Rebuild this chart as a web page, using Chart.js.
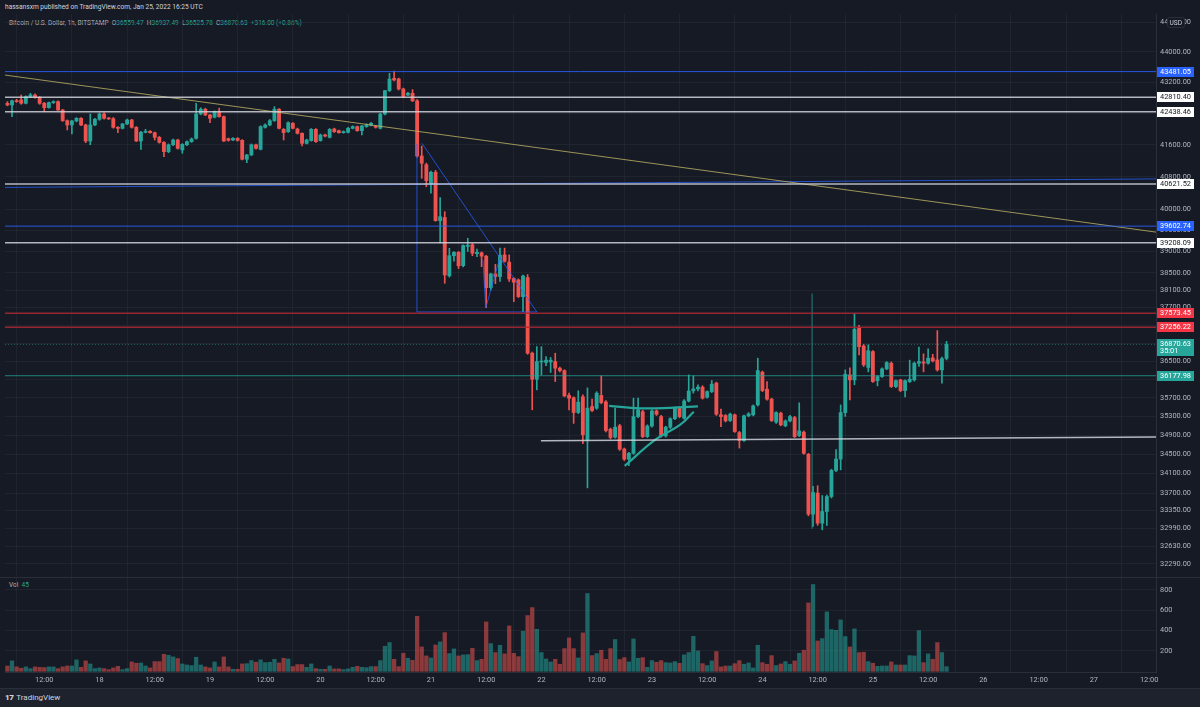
<!DOCTYPE html>
<html>
<head>
<meta charset="utf-8">
<title>BTCUSD 1h - BITSTAMP</title>
<script src="https://cdn.jsdelivr.net/npm/chart.js@4.4.1/dist/chart.umd.min.js"></script>
<style>
  html, body { margin: 0; padding: 0; }
  body { width: 1200px; height: 707px; background: #161a25; position: relative; overflow: hidden;
         font-family: Roboto, "Liberation Sans", Arial, sans-serif; }
  canvas { position: absolute; left: 0; }
  #priceCanvas { top: 14px; }
  #volCanvas { top: 578px; }
  #author { position: absolute; left: 5px; top: 2px; font-size: 6.6px; line-height: 10px; color: #d1d4dc; }
  #legend { position: absolute; left: 9px; top: 18px; font-size: 6.5px; line-height: 10px; color: #b2b5be; white-space: pre; }
  #legend .v, #volLegend .v { color: #26a69a; }
  #volLegend { position: absolute; left: 9px; top: 580px; font-size: 6.5px; line-height: 10px; color: #b2b5be; white-space: pre; }
  #paneSep { position: absolute; left: 0; top: 577px; width: 1200px; height: 1px; background: #2a2e39; }
  #footer { position: absolute; left: 0; top: 688px; width: 1200px; height: 19px; background: #1e222d; border-top: 1px solid #2a2e39; }
  #footer .logo { position: absolute; left: 5px; top: 4px; font-size: 8px; line-height: 10px; color: #d1d4dc; }
  #footer .logo b { font-weight: 900; letter-spacing: -0.5px; margin-right: 3px; }
</style>
</head>
<body>
<div id="author">hassansxm published on TradingView.com, Jan 25, 2022 16:25 UTC</div>
<div id="legend"></div>
<div id="volLegend"></div>
<div id="paneSep"></div>
<canvas id="priceCanvas" width="1200" height="563"></canvas>
<canvas id="volCanvas" width="1200" height="110"></canvas>
<div id="footer"><span class="logo"><b>17</b>TradingView</span></div>

<script>
// --- data: BTC/USD 1h candles, Jan 17 04:00 UTC .. Jan 25 16:00 UTC ---
const FIRST_HOUR = 4; // hours after Jan 17 00:00 UTC

const opens = [
  42656,42613,42720,42742,42656,42828,42871,42810,42656,42544,
  42673,42699,42484,42211,42100,42202,42271,42100,41694,42100,
  42245,42382,42271,42262,42041,42015,42126,42228,42041,41694,
  41914,41940,41905,41787,41660,41427,41600,41720,41469,41600,
  41677,41761,42382,42503,42356,42297,42441,42314,41753,41720,
  41761,41711,41236,41344,41600,41485,42041,42100,42211,42503,
  41990,41931,42143,41998,41888,41635,41703,41990,41703,41846,
  41787,41998,41956,41905,41914,42015,42058,41956,42058,42090,
  42075,42015,42382,42984,43305,43287,43027,42871,42915,42720,
  41318,41100,40625,40913,39734,39810,38430,38900,38980,38667,
  39120,39160,38950,38970,38890,38157,38474,38413,38920,38750,
  38370,38335,37950,38390,36674,36102,36480,36470,36480,36489,
  36343,36290,35750,35700,35382,35720,34800,35510,35475,35750,
  35610,35027,34860,35100,34610,34398,34520,35295,35400,34870,
  35095,35415,35295,34885,35070,35250,35475,35260,35630,35850,
  35890,35929,35710,35833,36016,35333,35318,35210,35333,34956,
  34788,35311,35332,35546,36255,35885,35670,35176,35368,35098,
  35204,35275,34892,34964,34500,33274,33700,33093,33327,33630,
  34165,34400,35380,36196,36087,37245,36835,36360,36710,36070,
  36160,36328,36453,35942,36087,35855,36050,36087,36453,36480,
  36453,36570,36526,36306,36559.47
];
const highs = [
  42700,42740,42760,42871,42850,42915,42900,42830,42680,42690,
  42720,42720,42500,42230,42220,42290,42290,42120,42382,42270,
  42410,42420,42290,42290,42060,42140,42250,42245,42060,41940,
  41990,41960,41920,41810,41680,41620,41740,41740,41630,41700,
  41770,42656,42540,42530,42370,42460,42530,42330,41770,41780,
  41780,41730,41360,41620,41620,42080,42130,42240,42570,42520,
  42010,42180,42160,42020,41900,41740,42010,42010,41870,41870,
  42010,42020,41970,41950,42040,42080,42075,42090,42130,42170,
  42090,42400,42990,43437,43498,43310,43050,42940,43010,42750,
  41568,41140,40940,40960,40290,39950,39075,39000,39000,39160,
  39313,39190,39060,38990,38910,38490,38700,39080,39080,38920,
  38390,38360,38450,38460,36700,36821,36820,36600,36580,36674,
  36370,36310,35800,35720,35850,35760,35913,35670,35830,36174,
  35640,35050,35475,35130,34630,34540,35690,35690,35430,35120,
  35440,35440,35320,35090,35270,35500,35500,35660,36196,36174,
  35980,35960,35850,36073,36040,35454,35340,35370,35350,34980,
  35330,35380,35545,36563,36280,36050,35690,35400,35390,35225,
  35320,35300,35590,34990,34520,33840,33850,33650,33660,34190,
  34600,35546,36306,36350,37570,37300,36870,36860,36730,36180,
  36350,36490,36480,36090,36100,36090,36520,36480,36808,36660,
  36770,36650,37180,36590,36937.49
];
const lows = [
  42590,42314,42680,42630,42640,42810,42790,42630,42441,42530,
  42650,42470,42190,41973,41871,42180,42080,41652,41600,42080,
  42220,42250,42240,42020,41905,42000,42110,42020,41680,41485,
  41900,41890,41720,41640,41302,41400,41580,41490,41385,41580,
  41660,41740,42360,42340,42160,42280,42300,41680,41690,41700,
  41690,41220,41152,41330,41490,41470,42020,42080,42190,42000,
  41720,41910,42000,41870,41568,41620,41690,41660,41690,41800,
  41770,41910,41890,41890,41900,42000,41940,41846,42040,42075,
  42020,42000,42360,42960,43240,43000,42800,42850,42700,41290,
  40764,40557,40397,39720,39200,38258,38400,38770,38600,38640,
  39000,38900,38880,38645,37697,38100,38250,38300,38750,38300,
  37835,37930,37608,36650,35440,35870,36196,36400,36250,36050,
  36260,35720,35440,35150,35360,34720,33806,35400,35450,35570,
  34970,34820,34840,34580,34370,34265,34500,35270,34850,34850,
  35070,35320,34860,34860,35040,35230,35270,35240,35610,35800,
  35850,35670,35690,35810,35320,35083,35180,35190,34960,34630,
  34770,35290,35310,35520,35830,35650,35190,35150,35100,35080,
  35180,34850,34870,34500,33240,33030,33050,32960,33050,33600,
  34140,34177,35300,35654,35980,36636,36380,36262,36030,35957,
  36140,36310,35920,35920,35830,35718,36030,36060,36380,36262,
  36430,36480,36280,36014,36525.78
];
const closes = [
  42613,42720,42699,42656,42828,42871,42810,42656,42544,42673,
  42699,42484,42211,42100,42202,42271,42100,41694,42100,42245,
  42382,42271,42255,42041,42015,42126,42228,42041,41694,41914,
  41940,41905,41787,41660,41427,41600,41720,41510,41610,41677,
  41745,42382,42503,42356,42271,42441,42314,41694,41711,41761,
  41711,41236,41344,41600,41510,42058,42100,42211,42503,42015,
  41905,42160,42015,41888,41635,41720,41990,41677,41846,41820,
  41990,41931,41905,41931,42015,42058,41956,42075,42100,42143,
  42041,42382,42984,43287,43261,43027,42828,42915,42720,41318,
  41138,40706,40913,39734,39830,38451,38902,38980,38667,39142,
  39150,38960,38980,38890,38157,38474,38413,38910,38770,38358,
  38282,37950,38427,36674,36102,36489,36500,36520,36520,36343,
  36290,35740,35690,35382,35605,34910,35475,35425,35798,35596,
  34998,34852,35070,34607,34398,34520,35295,35440,34870,35095,
  35415,35345,34885,35070,35250,35475,35295,35630,35845,35890,
  35930,35690,35833,35994,35347,35296,35204,35347,34977,34788,
  35311,35354,35525,36290,35855,35670,35210,35382,35119,35204,
  35296,34870,34991,34520,33274,33712,33093,33327,33630,34165,
  34400,35380,36210,36087,37210,36821,36417,36730,36050,36160,
  36328,36467,35942,36070,35855,36070,36102,36453,36489,36453,
  36563,36505,36306,36554.63,36870.63
];
const volumes = [
  52,102,43,30,43,26,43,39,36,43,
  43,26,43,52,52,112,39,102,72,26,
  33,26,16,33,49,16,26,92,79,82,
  52,33,95,95,167,157,141,125,72,62,
  56,138,62,43,33,92,43,141,43,20,
  20,72,75,105,89,112,85,89,118,82,
  128,121,46,66,66,39,72,26,20,20,
  52,23,23,16,23,39,49,39,36,46,
  46,105,246,282,118,46,177,128,108,541,
  239,151,131,259,289,380,174,220,151,161,
  164,226,105,118,485,272,184,256,171,446,
  177,144,394,548,626,413,184,121,92,118,
  69,223,328,223,131,377,764,154,174,207,
  118,223,312,115,134,92,318,128,134,39,
  105,89,105,85,82,95,79,161,184,344,
  200,75,56,102,194,43,52,52,75,105,
  69,82,33,256,85,69,154,56,72,95,
  69,102,177,207,672,853,298,321,584,410,
  403,505,341,239,417,184,187,95,79,49,
  52,52,92,62,62,62,154,151,400,85,
  171,118,282,184,45
];

// time axis (hours after Jan 17 00:00 UTC) and its labels
const timeTickHours = [12, 24, 36, 48, 60, 72, 84, 96, 108, 120, 132, 144, 156, 168, 180, 192, 204, 216, 228, 240, 252];
const timeTickLabels = ['12:00', '18', '12:00', '19', '12:00', '20', '12:00', '21', '12:00', '22', '12:00',
                        '23', '12:00', '24', '12:00', '25', '12:00', '26', '12:00', '27', '12:00'];

// price scale ticks (log scale) and volume ticks
const priceTicks = [44800, 44000, 43200, 42400, 41600, 40800, 40000, 39500, 39000, 38500, 38100, 37700, 37300,
                    36900, 36500, 36100, 35700, 35300, 34900, 34500, 34100, 33700, 33350, 32990, 32630, 32290];
const volumeTicks = [200, 400, 600, 800];

// drawn horizontal levels and their kind
const levelPrices = [43481.05, 42810.40, 42438.46, 40621.52, 39602.74, 39208.09, 37573.45, 37256.22, 36177.98];
const levelKinds  = ['blue', 'white', 'white', 'white', 'blue', 'white', 'red', 'red', 'teal'];
const countdown = '35:01';

// drawn trend lines / shapes: [hour, price]
const yellowTrend = [[3.475, 43390], [253.5, 39460]];
const blueTrend   = [[3.475, 40540], [253.5, 40750]];
const whiteTrend  = [[119.9, 34781], [253.5, 34865]];
const blueTriangle = [[94.05, 41640], [119.0, 37600], [92.96, 37600], [92.96, 41620]];
const blueWedge   = [[107.3, 38801], [107.9, 37690], [111.0, 38870]];
const tealTop     = [[134.7, 35525], [141.4, 35472], [147.9, 35482], [154.0, 35514]];
const tealBottom  = [[138.1, 34260], [144.67, 34802], [150.1, 35119], [153.1, 35400]];
const tealMarker  = [[178.8, 38024], [178.8, 32980]];

// --- layout / styles ---
const X_MIN = 3.475, X_MAX = 253.5;
const P_MIN = 32033, P_MAX = 45022;
const V_MIN = -7, V_MAX = 917;
const UP = '#26a69a', DOWN = '#ef5350';
const GRID = 'rgba(42,46,57,0.55)';
const AXIS_TXT = '#b2b5be';
const FONT = 'Roboto, "Liberation Sans", Arial, sans-serif';
const kindStyle = {
  blue:  { line: 'rgba(41,98,255,0.85)',  width: 1,   box: '#2962ff', text: '#ffffff' },
  white: { line: 'rgba(209,212,220,0.85)', width: 1.5, box: '#ffffff', text: '#131722' },
  red:   { line: 'rgba(170,40,52,0.85)',  width: 1.5, box: '#f23645', text: '#ffffff' },
  teal:  { line: 'rgba(38,166,154,0.75)', width: 1,   box: '#26a69a', text: '#ffffff' }
};

Chart.defaults.font.family = FONT;
Chart.defaults.animation = false;

const hours = opens.map((_, i) => FIRST_HOUR + i);
const isUp = closes.map((c, i) => c >= opens[i]);
const last = opens.length - 1;
const lastClose = closes[last];
const change = lastClose - closes[last - 1];

// legends
document.getElementById('legend').innerHTML =
  'Bitcoin / U.S. Dollar, 1h, BITSTAMP  ' +
  'O<span class="v">' + opens[last].toFixed(2) + '</span>  ' +
  'H<span class="v">' + highs[last].toFixed(2) + '</span>  ' +
  'L<span class="v">' + lows[last].toFixed(2) + '</span>  ' +
  'C<span class="v">' + lastClose.toFixed(2) + '</span>  ' +
  '<span class="v">+' + change.toFixed(2) + ' (+' + (change / closes[last - 1] * 100).toFixed(2) + '%)</span>';
document.getElementById('volLegend').innerHTML = 'Vol  <span class="v">' + volumes[last] + '</span>';

function toXY(pts) { return pts.map(p => ({ x: p[0], y: p[1] })); }
function lineSet(pts, color, width, extra) {
  return Object.assign({
    type: 'line', data: toXY(pts), borderColor: color, borderWidth: width,
    pointRadius: 0, fill: false, tension: 0, order: 0
  }, extra || {});
}
// keep the plot area exactly where the axes say (no label overflow padding)
function noPad(s) { s.paddingTop = 0; s.paddingBottom = 0; s.paddingLeft = 0; s.paddingRight = 0; }

const datasets = [];
// drawings on top
levelPrices.forEach((p, i) => {
  const st = kindStyle[levelKinds[i]];
  datasets.push(lineSet([[X_MIN, p], [X_MAX, p]], st.line, st.width));
});
datasets.push(lineSet([[X_MIN, lastClose], [X_MAX, lastClose]], 'rgba(38,166,154,0.55)', 1, { borderDash: [1, 2] }));
datasets.push(lineSet(yellowTrend, 'rgba(190,180,100,0.8)', 1));
datasets.push(lineSet(blueTrend, 'rgba(41,98,255,0.75)', 1));
datasets.push(lineSet(whiteTrend, 'rgba(209,212,220,0.85)', 1.5));
datasets.push(lineSet(blueTriangle, 'rgba(41,98,255,0.75)', 1));
datasets.push(lineSet(blueWedge, 'rgba(41,98,255,0.75)', 1));
datasets.push(lineSet(tealTop, UP, 2.2, { tension: 0.4 }));
datasets.push(lineSet(tealBottom, UP, 2.2, { tension: 0.4 }));
datasets.push(lineSet(tealMarker, 'rgba(38,166,154,0.5)', 1.5));
// candle bodies and wicks
datasets.push({
  type: 'bar', order: 1, grouped: false, barThickness: 3.2, minBarLength: 1,
  data: hours.map((h, i) => ({ x: h, y: [opens[i], closes[i]] })),
  backgroundColor: isUp.map(u => u ? UP : DOWN)
});
datasets.push({
  type: 'bar', order: 2, grouped: false, barThickness: 1,
  data: hours.map((h, i) => ({ x: h, y: [lows[i], highs[i]] })),
  backgroundColor: isUp.map(u => u ? UP : DOWN)
});

// price labels on the right axis
const priceBoxes = {
  id: 'priceBoxes',
  afterDraw(chart) {
    const ctx = chart.ctx, ys = chart.scales.y;
    const left = chart.chartArea.right + 1;
    ctx.save();
    ctx.font = '7.4px ' + FONT;
    ctx.textBaseline = 'middle';
    ctx.textAlign = 'left';
    levelPrices.forEach((p, i) => {
      const st = kindStyle[levelKinds[i]];
      const py = Math.round(ys.getPixelForValue(p));
      ctx.fillStyle = st.box;
      ctx.fillRect(left, py - 5, 37, 10);
      ctx.fillStyle = st.text;
      ctx.fillText(p.toFixed(2), left + 3, py + 0.5);
    });
    // last price + countdown
    const cy = Math.round(ys.getPixelForValue(lastClose));
    ctx.fillStyle = UP;
    ctx.fillRect(left, cy - 5, 37, 17);
    ctx.fillStyle = '#ffffff';
    ctx.fillText(lastClose.toFixed(2), left + 3, cy + 0.5);
    ctx.fillText(countdown, left + 3, cy + 7.5);
    // currency badge
    ctx.fillStyle = '#161a25';
    ctx.strokeStyle = '#2a2e39';
    ctx.beginPath();
    ctx.roundRect(1167.5, 3.5, 17, 10, 2);
    ctx.fill();
    ctx.stroke();
    ctx.fillStyle = '#d1d4dc';
    ctx.font = '6.6px ' + FONT;
    ctx.fillText('USD', 1169.5, 9);
    ctx.restore();
  }
};

new Chart(document.getElementById('priceCanvas'), {
  type: 'bar',
  data: { datasets: datasets },
  options: {
    responsive: false, maintainAspectRatio: false, devicePixelRatio: 1,
    layout: { autoPadding: false, padding: { left: 5, right: 0, top: 0, bottom: 0 } },
    plugins: { legend: { display: false }, tooltip: { enabled: false } },
    scales: {
      x: {
        type: 'linear', min: X_MIN, max: X_MAX, offset: false,
        grid: { color: GRID, drawTicks: false }, border: { display: false },
        ticks: { display: false },
        afterBuildTicks: s => { s.ticks = timeTickHours.map(v => ({ value: v })); },
        afterFit: s => { s.height = 0; noPad(s); }
      },
      y: {
        type: 'logarithmic', position: 'right', min: P_MIN, max: P_MAX,
        grid: { color: GRID, drawTicks: false }, border: { color: '#2a2e39' },
        ticks: { color: AXIS_TXT, font: { size: 7.4 }, padding: 4, autoSkip: false,
                 callback: v => Number(v).toFixed(2) },
        afterBuildTicks: s => { s.ticks = priceTicks.map(v => ({ value: v })); },
        afterFit: s => { s.width = 44; noPad(s); }
      }
    }
  },
  plugins: [priceBoxes]
});

new Chart(document.getElementById('volCanvas'), {
  type: 'bar',
  data: {
    datasets: [{
      grouped: false, barThickness: 3.6,
      data: hours.map((h, i) => ({ x: h, y: volumes[i] })),
      backgroundColor: isUp.map(u => u ? 'rgba(38,166,154,0.55)' : 'rgba(239,83,80,0.55)')
    }]
  },
  options: {
    responsive: false, maintainAspectRatio: false, devicePixelRatio: 1,
    layout: { autoPadding: false, padding: { left: 5, right: 0, top: 0, bottom: 0 } },
    plugins: { legend: { display: false }, tooltip: { enabled: false } },
    scales: {
      x: {
        type: 'linear', min: X_MIN, max: X_MAX, offset: false,
        grid: { color: GRID, drawTicks: false }, border: { color: '#2a2e39' },
        ticks: { color: AXIS_TXT, font: { size: 7.4 }, padding: 4, autoSkip: false, maxRotation: 0,
                 callback: v => timeTickLabels[timeTickHours.indexOf(v)] },
        afterBuildTicks: s => { s.ticks = timeTickHours.map(v => ({ value: v })); },
        afterFit: s => { s.height = 16; noPad(s); }
      },
      y: {
        type: 'linear', position: 'right', min: V_MIN, max: V_MAX,
        grid: { color: GRID, drawTicks: false }, border: { color: '#2a2e39' },
        ticks: { color: AXIS_TXT, font: { size: 7.4 }, padding: 4, autoSkip: false },
        afterBuildTicks: s => { s.ticks = volumeTicks.map(v => ({ value: v })); },
        afterFit: s => { s.width = 44; noPad(s); }
      }
    }
  }
});
</script>
</body>
</html>
